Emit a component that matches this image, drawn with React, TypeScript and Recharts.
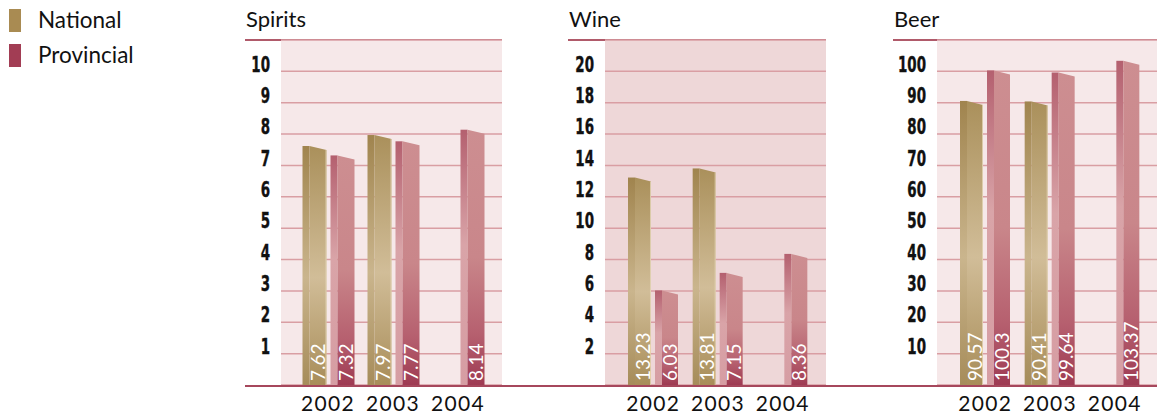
import { BarChart, Bar, XAxis, YAxis, CartesianGrid, LabelList } from "recharts"

const years = ["2002", "2003", "2004"]

const spiritsNational = [7.62, 7.97, null]
const spiritsProvincial = [7.32, 7.77, 8.14]
const wineNational = [13.23, 13.81, null]
const wineProvincial = [6.03, 7.15, 8.36]
const beerNational = [90.57, 90.41, null]
const beerProvincial = [100.3, 99.64, 103.37]

const spiritsTicks = [1, 2, 3, 4, 5, 6, 7, 8, 9, 10]
const wineTicks = [2, 4, 6, 8, 10, 12, 14, 16, 18, 20]
const beerTicks = [10, 20, 30, 40, 50, 60, 70, 80, 90, 100]

const NAT = "#a98b52"
const PROV = "#a23d54"
const GRID = "#d99ea3"
const LINE = "#a6475c"
const TITLE_FONT = "Lato, 'Open Sans', sans-serif"
const TICK_FONT = "'DejaVu Sans', sans-serif"

const PLOT_TOP = 40
const PLOT_BOTTOM = 385
const H = 416

function Bar3D(props: any) {
  const { x, y, width, height, kind } = props
  if (height == null || height <= 0 || width <= 0) return null
  const side = 7
  const drop = 4
  const bottom = y + height
  const p = kind === "nat" ? "nat" : "prov"
  return (
    <g>
      <rect x={x} y={y} width={side} height={height} fill={`url(#${p}Left)`} />
      <polygon
        points={`${x + side},${y} ${x + width},${y + drop} ${x + width},${bottom} ${x + side},${bottom}`}
        fill={`url(#${p}Right)`}
      />
      {kind === "nat" && (
        <rect x={x + width - 1} y={y + drop} width={1} height={height - drop} fill="#e4d6b8" opacity={0.8} />
      )}
    </g>
  )
}

function ValueLabel(props: any) {
  const { x, y, width, height, value } = props
  if (value == null || !height) return null
  const cx = x + width * 0.62
  const cy = y + height - 4
  return (
    <text
      x={cx}
      y={cy}
      transform={`rotate(-90, ${cx}, ${cy})`}
      textAnchor="start"
      dominantBaseline="central"
      fill="#ffffff"
      fontSize={19}
      fontFamily={TITLE_FONT}
    >
      {value}
    </text>
  )
}

function YTick(props: any) {
  const { x, y, payload } = props
  return (
    <text
      transform={`translate(${x}, ${y - 7}) scale(0.64, 1)`}
      textAnchor="end"
      dominantBaseline="central"
      fill="#111"
      stroke="#111"
      strokeWidth={0.4}
      fontSize={21}
      fontWeight="bold"
      fontFamily={TICK_FONT}
    >
      {payload.value}
    </text>
  )
}

function XTick(props: any) {
  const { x, y, payload } = props
  return (
    <text
      x={x}
      y={y + 15}
      textAnchor="middle"
      dominantBaseline="central"
      fill="#111"
      fontSize={21}
      letterSpacing={1.3}
      fontFamily={TITLE_FONT}
    >
      {payload.value}
    </text>
  )
}

interface PanelProps {
  title: string
  national: (number | null)[]
  provincial: (number | null)[]
  ticks: number[]
  max: number
  left: number
  plotLeft: number
  right: number
  bg: string
  padLeft: number
  padRight: number
}

function Panel({ title, national, provincial, ticks, max, left, plotLeft, right, bg, padLeft, padRight }: PanelProps) {
  const data = years.map((year, i) => ({
    year,
    national: national[i],
    provincial: provincial[i],
  }))
  return (
    <>
      <div
        style={{
          position: "absolute",
          left: left + 1,
          top: 6,
          fontFamily: TITLE_FONT,
          fontSize: 22,
          lineHeight: "26px",
          color: "#111",
        }}
      >
        {title}
      </div>
      <div
        style={{
          position: "absolute",
          left,
          top: 39,
          width: right - left,
          height: 1.5,
          background: "#b05a6a",
        }}
      />
      <div style={{ position: "absolute", left, top: 0 }}>
        <BarChart
          width={right - left}
          height={H}
          data={data}
          margin={{ top: PLOT_TOP, right: 0, bottom: 0, left: 0 }}
          barCategoryGap={7}
          barGap={4}
        >
          <defs>
            <linearGradient id="natLeft" x1="0" y1="0" x2="0" y2="1">
              <stop offset="0%" stopColor="#a0844e" />
              <stop offset="55%" stopColor="#cab58d" />
              <stop offset="100%" stopColor="#a68c5a" />
            </linearGradient>
            <linearGradient id="natRight" x1="0" y1="0" x2="0" y2="1">
              <stop offset="0%" stopColor="#aa905b" />
              <stop offset="55%" stopColor="#d1bd98" />
              <stop offset="100%" stopColor="#a88d59" />
            </linearGradient>
            <linearGradient id="provLeft" x1="0" y1="0" x2="0" y2="1">
              <stop offset="0%" stopColor="#b4606f" />
              <stop offset="45%" stopColor="#d9a4a8" />
              <stop offset="100%" stopColor="#d69da3" />
            </linearGradient>
            <linearGradient id="provRight" x1="0" y1="0" x2="0" y2="1">
              <stop offset="0%" stopColor="#cd8e91" />
              <stop offset="50%" stopColor="#c9868a" />
              <stop offset="80%" stopColor="#b6606f" />
              <stop offset="100%" stopColor="#9e3b53" />
            </linearGradient>
          </defs>
          <CartesianGrid vertical={false} fill={bg} fillOpacity={1} stroke={GRID} strokeWidth={1.5} />
          <XAxis
            dataKey="year"
            axisLine={false}
            tickLine={false}
            tickSize={0}
            tick={<XTick />}
            height={H - PLOT_BOTTOM}
            interval={0}
            padding={{ left: padLeft, right: padRight }}
          />
          <YAxis
            type="number"
            domain={[0, max]}
            ticks={ticks}
            axisLine={false}
            tickLine={false}
            tickSize={0}
            tickMargin={11}
            tick={<YTick />}
            width={plotLeft - left}
            interval={0}
          />
          <Bar dataKey="national" fill={NAT} isAnimationActive={false} shape={(p: any) => <Bar3D {...p} kind="nat" />}>
            <LabelList dataKey="national" content={<ValueLabel />} />
          </Bar>
          <Bar dataKey="provincial" fill={PROV} isAnimationActive={false} shape={(p: any) => <Bar3D {...p} kind="prov" />}>
            <LabelList dataKey="provincial" content={<ValueLabel />} />
          </Bar>
        </BarChart>
      </div>
    </>
  )
}

function LegendItem({ color, label, top }: { color: string; label: string; top: number }) {
  return (
    <>
      <div style={{ position: "absolute", left: 9, top, width: 12, height: 23, background: color }} />
      <div
        style={{
          position: "absolute",
          left: 38,
          top: top - 2,
          fontFamily: TITLE_FONT,
          fontSize: 22.5,
          lineHeight: "26px",
          color: "#111",
        }}
      >
        {label}
      </div>
    </>
  )
}

export default function App() {
  return (
    <div style={{ position: "absolute", left: 0, top: 0, width: 1157, height: H, background: "#fff", overflow: "hidden" }}>
      <LegendItem color={NAT} label="National" top={9} />
      <LegendItem color={PROV} label="Provincial" top={44} />
      <Panel
        title="Spirits"
        national={spiritsNational}
        provincial={spiritsProvincial}
        ticks={spiritsTicks}
        max={11}
        left={245}
        plotLeft={281}
        right={502}
        bg="#f6e8e9"
        padLeft={14.5}
        padRight={11.5}
      />
      <Panel
        title="Wine"
        national={wineNational}
        provincial={wineProvincial}
        ticks={wineTicks}
        max={22}
        left={568}
        plotLeft={605}
        right={826}
        bg="#eed7d8"
        padLeft={16}
        padRight={11}
      />
      <Panel
        title="Beer"
        national={beerNational}
        provincial={beerProvincial}
        ticks={beerTicks}
        max={110}
        left={893}
        plotLeft={937}
        right={1157}
        bg="#f6e8e9"
        padLeft={16}
        padRight={10}
      />
      <div style={{ position: "absolute", left: 245, top: PLOT_BOTTOM, width: 1157 - 245, height: 2, background: LINE }} />
    </div>
  )
}
